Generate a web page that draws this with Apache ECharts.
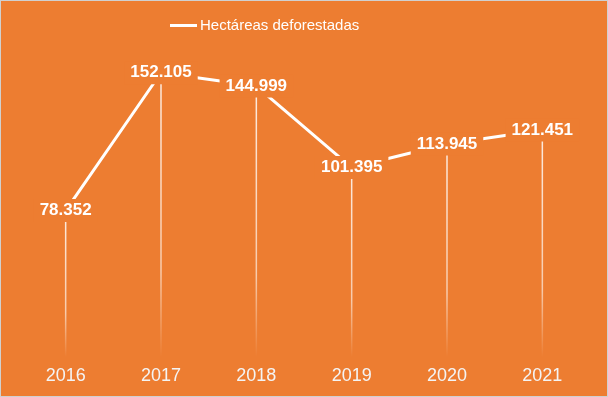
<!DOCTYPE html>
<html>
<head>
<meta charset="utf-8">
<script src="https://cdn.jsdelivr.net/npm/echarts@6/dist/echarts.min.js"></script>
<style>
  html, body { margin: 0; padding: 0; background: #fff; }
  #chart { width: 608px; height: 397px; box-sizing: border-box; border: 1px solid #d0d0d0; }
</style>
</head>
<body>
<div id="chart"></div>
<script>
// datos: hectáreas deforestadas por año
const years = ["2016", "2017", "2018", "2019", "2020", "2021"];
const hectares = [78352, 152105, 144999, 101395, 113945, 121451];
const seriesName = "Hectáreas deforestadas";

const orange = "#ED7D31";
const font = "'Liberation Sans', Arial, sans-serif";

// 152105 -> "152.105"
function fmt(v) {
  return String(v).replace(/\B(?=(\d{3})+(?!\d))/g, ".");
}

const chart = echarts.init(document.getElementById("chart"));

chart.setOption({
  animation: false,
  backgroundColor: orange,
  textStyle: { fontFamily: font },
  legend: {
    data: [{ name: seriesName, icon: "rect" }],
    top: 12,
    left: 164,
    itemWidth: 27,
    itemHeight: 3,
    itemGap: 4,
    textStyle: { color: "#fff", fontSize: 15, fontFamily: font, padding: [0, 0, 0, -2] }
  },
  grid: { left: 17, right: 17, top: 57, bottom: 39 },
  xAxis: {
    type: "category",
    data: years,
    boundaryGap: true,
    axisLine: { show: false },
    axisTick: { show: false },
    axisLabel: { color: "#f4f4f4", fontSize: 18, margin: 10, fontFamily: font }
  },
  yAxis: {
    type: "value",
    min: 0,
    max: 160000,
    show: false,
    splitLine: { show: false }
  },
  series: [
    {
      // líneas de caída (drop lines) que se desvanecen hacia abajo
      name: "drop",
      type: "bar",
      data: hectares,
      barWidth: 1.5,
      silent: true,
      z: 1,
      itemStyle: {
        color: new echarts.graphic.LinearGradient(0, 0, 0, 1, [
          { offset: 0, color: "rgba(255,255,255,0.85)" },
          { offset: 0.7, color: "rgba(255,255,255,0.6)" },
          { offset: 1, color: "rgba(255,255,255,0)" }
        ])
      }
    },
    {
      name: seriesName,
      type: "line",
      data: hectares,
      z: 2,
      symbol: "circle",
      symbolSize: 2,
      lineStyle: { color: "#fff", width: 3 },
      itemStyle: { color: "#fff" },
      label: {
        show: true,
        position: "inside",
        formatter: p => fmt(p.value),
        color: "#fff",
        fontSize: 17,
        fontWeight: "bold",
        fontFamily: font,
        backgroundColor: orange,
        padding: [3, 6]
      }
    }
  ]
});
</script>
</body>
</html>
